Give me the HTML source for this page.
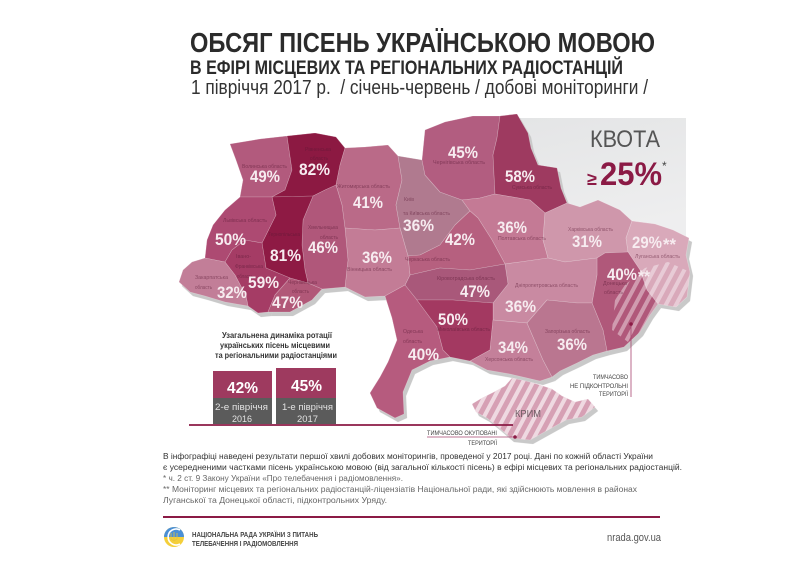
<!DOCTYPE html>
<html><head><meta charset="utf-8"><style>
html,body{margin:0;padding:0;background:#fff;}
svg{display:block;}
text{font-family:"Liberation Sans","DejaVu Sans",sans-serif;}
.pc{font-weight:bold;font-size:16.5px;fill:#f7ecf0;}
.rl{font-size:5.5px;fill:#5a1a35;fill-opacity:0.55;}
</style></head><body>
<svg width="800" height="566" viewBox="0 0 800 566" xmlns="http://www.w3.org/2000/svg">
<defs>
<filter id="sh" x="-5%" y="-5%" width="110%" height="110%">
<feFlood flood-color="#c9c9c9"/><feComposite in2="SourceAlpha" operator="in"/>
</filter>
<pattern id="st" patternUnits="userSpaceOnUse" width="9" height="9" patternTransform="rotate(28)">
<rect x="0" y="0" width="4" height="9" fill="#fff" fill-opacity="0.6"/>
</pattern>
<pattern id="st2" patternUnits="userSpaceOnUse" width="9" height="9" patternTransform="rotate(28)">
<rect x="0" y="0" width="4" height="9" fill="#fff" fill-opacity="0.4"/>
</pattern>
<linearGradient id="gb" x1="0" y1="0" x2="0.3" y2="1">
<stop offset="0" stop-color="#e4e5e6"/><stop offset="1" stop-color="#eeeeef"/>
</linearGradient>
</defs>

<!-- Title -->
<text x="190" y="52" font-size="28" font-weight="bold" fill="#2b2b2b" textLength="465" lengthAdjust="spacingAndGlyphs">ОБСЯГ ПІСЕНЬ УКРАЇНСЬКОЮ МОВОЮ</text>
<text x="190" y="74" font-size="19" font-weight="bold" fill="#2b2b2b" textLength="433" lengthAdjust="spacingAndGlyphs">В ЕФІРІ МІСЦЕВИХ ТА РЕГІОНАЛЬНИХ РАДІОСТАНЦІЙ</text>
<text x="191" y="94" font-size="20" fill="#333" textLength="457" lengthAdjust="spacingAndGlyphs" xml:space="preserve">1 півріччя 2017 р.  / січень-червень / добові моніторинги /</text>

<!-- Quota box -->
<rect x="518" y="118" width="168" height="125" fill="url(#gb)"/>
<text x="590" y="147" font-size="24" fill="#555" textLength="70" lengthAdjust="spacingAndGlyphs">КВОТА</text>
<text x="587" y="185" font-size="18" font-weight="bold" fill="#8b1a45">≥</text>
<text x="600" y="185" font-size="32" font-weight="bold" fill="#8b1a45" textLength="62" lengthAdjust="spacingAndGlyphs">25%</text>
<text x="662" y="170" font-size="12" fill="#444">*</text>

<!-- Map -->
<g id="map" stroke="#ffffff" stroke-opacity="0.3" stroke-width="0.6" stroke-linejoin="round">
<polygon fill="#b25a7d" points="230,144 260,139 287,136 292,170 285,190 272,197 240,197 243,180 236,160"/>
<polygon fill="#8c1942" points="287,136 315,133 336,137 345,148 340,165 336,185 325,190 313,196 272,197 285,190 292,170"/>
<polygon fill="#ba6a88" points="345,148 365,147 388,145 398,156 402,180 396,205 400,228 375,230 345,228 342,205 336,185 340,165"/>
<polygon fill="#b07a8f" points="398,156 422,160 425,175 440,192 462,200 470,211 455,225 440,245 420,255 408,256 400,228 396,205 402,180"/>
<polygon fill="#b25d80" points="422,160 425,130 445,122 473,116 500,116 497,138 493,155 495,194 480,198 462,200 440,192 425,175"/>
<polygon fill="#9e3a60" points="500,116 517,114 528,133 531,148 538,165 557,168 561,188 567,203 545,213 530,200 495,194 493,155 497,138"/>
<polygon fill="#c47a95" points="462,200 480,198 495,194 530,200 545,213 543,240 548,258 520,262 505,264 492,240 478,218 470,211"/>
<polygon fill="#b6607f" points="470,211 478,218 492,240 505,264 470,270 440,268 410,275 408,256 420,255 440,245 455,225"/>
<polygon fill="#cf97ab" points="545,213 567,203 580,207 598,200 620,210 632,221 626,238 628,252 605,253 597,258 565,262 548,258 543,240"/>
<polygon fill="#d9a9ba" points="632,221 655,224 673,230 689,238 686,255 690,272 687,297 676,307 658,304 647,290 640,270 628,252 626,238"/>
<polygon fill="#b0587a" points="597,258 605,253 628,252 640,270 647,290 658,304 650,315 640,332 624,347 607,351 603,330 592,303 597,275"/>
<polygon fill="#c98aa2" points="505,264 520,262 548,258 565,262 597,258 597,275 592,303 577,303 547,300 527,323 493,320 493,303 508,284"/>
<polygon fill="#a9587a" points="410,275 440,268 470,270 505,264 508,284 493,303 453,300 417,300 405,285"/>
<polygon fill="#c37c96" points="345,228 375,230 400,228 408,256 410,275 405,285 385,296 365,297 345,287 348,260"/>
<polygon fill="#b65b7e" points="405,285 417,300 437,327 443,350 450,357 430,361 412,370 403,392 404,414 395,418 377,408 370,393 380,377 388,362 397,340 392,318 385,296"/>
<polygon fill="#a33961" points="417,300 453,300 493,303 493,320 490,350 470,361 450,357 443,350 437,327"/>
<polygon fill="#c4809a" points="493,320 527,323 543,360 552,377 540,381 510,374 487,370 470,361 490,350"/>
<polygon fill="#ba7690" points="547,300 577,303 592,303 603,330 607,351 593,355 577,363 560,371 552,377 543,360 527,323"/>
<polygon fill="#b0577a" points="336,185 342,205 345,228 348,260 345,287 322,289 308,283 305,270 302,245 303,220 313,196 325,190"/>
<polygon fill="#8e1a44" points="272,197 313,196 303,220 302,245 305,270 308,283 290,278 266,268 262,243 276,215"/>
<polygon fill="#ad4a72" points="240,197 272,197 276,215 262,243 245,240 232,250 225,262 205,258 207,240 213,225 225,210"/>
<polygon fill="#a53c65" points="262,243 266,268 290,278 275,295 268,312 258,313 248,306 246,296 235,275 225,262 232,250 245,240"/>
<polygon fill="#b15878" points="290,278 308,283 322,289 312,300 290,312 268,312 275,295"/>
<polygon fill="#c27e98" points="205,258 225,262 235,275 246,296 248,306 225,302 205,296 190,292 179,282 183,270 192,262"/>
<polygon fill="#d6a0b4" points="512,378 526,381 540,385 552,389 562,396 575,402 588,399 595,407 582,417 566,420 548,430 530,440 511,438 497,426 487,418 476,412 472,404 482,398 494,392 505,386"/>
</g>
<use href="#map" transform="translate(3,4)" filter="url(#sh)"/>
<use href="#map"/>
<!-- stripes Crimea -->
<polygon fill="url(#st)" points="512,378 526,381 540,385 552,389 562,396 575,402 588,399 595,407 582,417 566,420 548,430 530,440 511,438 497,426 487,418 476,412 472,404 482,398 494,392 505,386"/>
<!-- stripes occupied -->
<polygon fill="url(#st2)" points="612,330 615,300 625,285 645,268 668,262 690,272 687,297 676,307 658,304 650,315 640,332 628,342"/>

<!-- region small labels -->
<g class="rl">
<text class="rl" x="242" y="168" textLength="45" lengthAdjust="spacingAndGlyphs">Волинська область</text>
<text class="rl" x="305" y="151" textLength="26" lengthAdjust="spacingAndGlyphs">Рівненська</text>
<text class="rl" x="310" y="160" textLength="18" lengthAdjust="spacingAndGlyphs">область</text>
<text class="rl" x="337" y="188" textLength="53" lengthAdjust="spacingAndGlyphs">Житомирська область</text>
<text class="rl" x="404" y="201" textLength="10" lengthAdjust="spacingAndGlyphs">Київ</text>
<text class="rl" x="403" y="215" textLength="47" lengthAdjust="spacingAndGlyphs">та Київська область</text>
<text class="rl" x="433" y="164" textLength="52" lengthAdjust="spacingAndGlyphs">Чернігівська область</text>
<text class="rl" x="223" y="222" textLength="44" lengthAdjust="spacingAndGlyphs">Львівська область</text>
<text class="rl" x="268" y="236" textLength="32" lengthAdjust="spacingAndGlyphs">Тернопільська</text>
<text class="rl" x="308" y="229" textLength="30" lengthAdjust="spacingAndGlyphs">Хмельницька</text>
<text class="rl" x="320" y="239" textLength="18" lengthAdjust="spacingAndGlyphs">область</text>
<text class="rl" x="347" y="271" textLength="45" lengthAdjust="spacingAndGlyphs">Вінницька область</text>
<text class="rl" x="405" y="261" textLength="45" lengthAdjust="spacingAndGlyphs">Черкаська область</text>
<text class="rl" x="437" y="280" textLength="58" lengthAdjust="spacingAndGlyphs">Кіровоградська область</text>
<text class="rl" x="236" y="258" textLength="15" lengthAdjust="spacingAndGlyphs">Івано-</text>
<text class="rl" x="235" y="268" textLength="28" lengthAdjust="spacingAndGlyphs">Франківська</text>
<text class="rl" x="237" y="278" textLength="16" lengthAdjust="spacingAndGlyphs">область</text>
<text class="rl" x="195" y="279" textLength="33" lengthAdjust="spacingAndGlyphs">Закарпатська</text>
<text class="rl" x="195" y="289" textLength="17" lengthAdjust="spacingAndGlyphs">область</text>
<text class="rl" x="288" y="284" textLength="29" lengthAdjust="spacingAndGlyphs">Чернівецька</text>
<text class="rl" x="292" y="293" textLength="17" lengthAdjust="spacingAndGlyphs">область</text>
<text class="rl" x="512" y="189" textLength="40" lengthAdjust="spacingAndGlyphs">Сумська область</text>
<text class="rl" x="498" y="240" textLength="48" lengthAdjust="spacingAndGlyphs">Полтавська область</text>
<text class="rl" x="568" y="231" textLength="45" lengthAdjust="spacingAndGlyphs">Харківська область</text>
<text class="rl" x="635" y="258" textLength="45" lengthAdjust="spacingAndGlyphs">Луганська область</text>
<text class="rl" x="603" y="285" textLength="24" lengthAdjust="spacingAndGlyphs">Донецька</text>
<text class="rl" x="604" y="294" textLength="19" lengthAdjust="spacingAndGlyphs">область</text>
<text class="rl" x="515" y="287" textLength="63" lengthAdjust="spacingAndGlyphs">Дніпропетровська область</text>
<text class="rl" x="545" y="333" textLength="45" lengthAdjust="spacingAndGlyphs">Запорізька область</text>
<text class="rl" x="485" y="361" textLength="48" lengthAdjust="spacingAndGlyphs">Херсонська область</text>
<text class="rl" x="437" y="331" textLength="53" lengthAdjust="spacingAndGlyphs">Миколаївська область</text>
<text class="rl" x="403" y="333" textLength="20" lengthAdjust="spacingAndGlyphs">Одеська</text>
<text class="rl" x="403" y="343" textLength="19" lengthAdjust="spacingAndGlyphs">область</text>
</g>

<!-- percentages -->
<g>
<text class="pc" x="250" y="182" textLength="30" lengthAdjust="spacingAndGlyphs">49%</text>
<text class="pc" x="299" y="175" textLength="31" lengthAdjust="spacingAndGlyphs">82%</text>
<text class="pc" x="353" y="208" textLength="30" lengthAdjust="spacingAndGlyphs">41%</text>
<text class="pc" x="403" y="231" textLength="31" lengthAdjust="spacingAndGlyphs">36%</text>
<text class="pc" x="448" y="158" textLength="30" lengthAdjust="spacingAndGlyphs">45%</text>
<text class="pc" x="215" y="245" textLength="31" lengthAdjust="spacingAndGlyphs">50%</text>
<text class="pc" x="270" y="261" textLength="31" lengthAdjust="spacingAndGlyphs">81%</text>
<text class="pc" x="308" y="253" textLength="30" lengthAdjust="spacingAndGlyphs">46%</text>
<text class="pc" x="362" y="263" textLength="30" lengthAdjust="spacingAndGlyphs">36%</text>
<text class="pc" x="445" y="245" textLength="30" lengthAdjust="spacingAndGlyphs">42%</text>
<text class="pc" x="248" y="288" textLength="31" lengthAdjust="spacingAndGlyphs">59%</text>
<text class="pc" x="217" y="298" textLength="30" lengthAdjust="spacingAndGlyphs">32%</text>
<text class="pc" x="272" y="308" textLength="31" lengthAdjust="spacingAndGlyphs">47%</text>
<text class="pc" x="460" y="297" textLength="30" lengthAdjust="spacingAndGlyphs">47%</text>
<text class="pc" x="438" y="325" textLength="30" lengthAdjust="spacingAndGlyphs">50%</text>
<text class="pc" x="408" y="360" textLength="31" lengthAdjust="spacingAndGlyphs">40%</text>
<text class="pc" x="505" y="312" textLength="31" lengthAdjust="spacingAndGlyphs">36%</text>
<text class="pc" x="498" y="353" textLength="30" lengthAdjust="spacingAndGlyphs">34%</text>
<text class="pc" x="557" y="350" textLength="30" lengthAdjust="spacingAndGlyphs">36%</text>
<text class="pc" x="607" y="280" textLength="30" lengthAdjust="spacingAndGlyphs">40%</text>
<text class="pc" x="638" y="282" font-size="13" textLength="12" lengthAdjust="spacingAndGlyphs">**</text>
<text class="pc" x="632" y="248" textLength="30" lengthAdjust="spacingAndGlyphs">29%</text>
<text class="pc" x="663" y="250" font-size="13" textLength="13" lengthAdjust="spacingAndGlyphs">**</text>
<text class="pc" x="572" y="247" textLength="30" lengthAdjust="spacingAndGlyphs">31%</text>
<text class="pc" x="497" y="233" textLength="30" lengthAdjust="spacingAndGlyphs">36%</text>
<text class="pc" x="505" y="182" textLength="30" lengthAdjust="spacingAndGlyphs">58%</text>
</g>

<text x="515" y="417" font-size="10" fill="#6d5a62" textLength="26" lengthAdjust="spacingAndGlyphs">КРИМ</text>

<!-- Not controlled label -->
<line x1="631" y1="324" x2="631" y2="397" stroke="#a8456f" stroke-width="0.8"/>
<circle cx="631" cy="324" r="1.8" fill="#8b1a45"/>
<g font-size="6.5" fill="#444" text-anchor="end">
<text x="628" y="379" textLength="35" lengthAdjust="spacingAndGlyphs">ТИМЧАСОВО</text>
<text x="628" y="388" textLength="58" lengthAdjust="spacingAndGlyphs">НЕ ПІДКОНТРОЛЬНІ</text>
<text x="628" y="396" textLength="29" lengthAdjust="spacingAndGlyphs">ТЕРИТОРІЇ</text>
</g>

<!-- Occupied label -->
<line x1="189" y1="425" x2="513" y2="425" stroke="#8b1a45" stroke-width="1.8"/>
<line x1="427" y1="437" x2="515" y2="437" stroke="#a8456f" stroke-width="0.8"/>
<circle cx="515" cy="437" r="1.8" fill="#8b1a45"/>
<text x="427" y="435" font-size="6.5" fill="#444" textLength="70" lengthAdjust="spacingAndGlyphs">ТИМЧАСОВО ОКУПОВАНІ</text>
<text x="468" y="445" font-size="6.5" fill="#444" textLength="29" lengthAdjust="spacingAndGlyphs">ТЕРИТОРІЇ</text>

<!-- Dynamics block -->
<g font-size="8" font-weight="bold" fill="#333">
<text x="222" y="338" textLength="110" lengthAdjust="spacingAndGlyphs">Узагальнена динаміка ротації</text>
<text x="220" y="348" textLength="110" lengthAdjust="spacingAndGlyphs">українських пісень місцевими</text>
<text x="215" y="358" textLength="122" lengthAdjust="spacingAndGlyphs">та регіональними радіостанціями</text>
</g>
<rect x="213" y="371" width="59" height="27" fill="#9e3a5f"/>
<rect x="213" y="398" width="59" height="26" fill="#5b5b5b"/>
<rect x="276" y="368" width="60" height="30" fill="#9e3a5f"/>
<rect x="276" y="398" width="60" height="26" fill="#5b5b5b"/>
<text x="227" y="393" font-size="16" font-weight="bold" fill="#fff" textLength="31" lengthAdjust="spacingAndGlyphs">42%</text>
<text x="291" y="391" font-size="16" font-weight="bold" fill="#fff" textLength="31" lengthAdjust="spacingAndGlyphs">45%</text>
<g font-size="9.5" fill="#e2e2e2">
<text x="215" y="410" textLength="53" lengthAdjust="spacingAndGlyphs">2-е півріччя</text>
<text x="232" y="422" textLength="20" lengthAdjust="spacingAndGlyphs">2016</text>
<text x="282" y="410" textLength="51" lengthAdjust="spacingAndGlyphs">1-е півріччя</text>
<text x="297" y="422" textLength="21" lengthAdjust="spacingAndGlyphs">2017</text>
</g>

<!-- Footnotes -->
<g font-size="8.6">
<text x="163" y="459" fill="#333" textLength="490" lengthAdjust="spacingAndGlyphs">В інфографіці наведені результати першої хвилі добових моніторингів, проведеної у 2017 році. Дані по кожній області України</text>
<text x="163" y="470" fill="#333" textLength="519" lengthAdjust="spacingAndGlyphs">є усередненими частками пісень українською мовою (від загальної кількості пісень) в ефірі місцевих та регіональних радіостанцій.</text>
<text x="163" y="481" fill="#666" textLength="240" lengthAdjust="spacingAndGlyphs">* ч. 2 ст. 9 Закону України «Про телебачення і радіомовлення».</text>
<text x="163" y="492" fill="#666" textLength="474" lengthAdjust="spacingAndGlyphs">** Моніторинг місцевих та регіональних радіостанцій-ліцензіатів Національної ради, які здійснюють мовлення в районах</text>
<text x="163" y="503" fill="#666" textLength="224" lengthAdjust="spacingAndGlyphs">Луганської та Донецької області, підконтрольних Уряду.</text>
</g>

<!-- Footer -->
<line x1="163" y1="517" x2="660" y2="517" stroke="#8b1a45" stroke-width="2"/>
<circle cx="174" cy="537" r="10" fill="#f4cf3a"/>
<path d="M164,537 A10,10 0 0 1 184,537 Z" fill="#4a8fd6"/>
<path d="M180,530 A8,8 0 1 0 180,544" fill="none" stroke="#fff" stroke-width="1.6"/>
<path d="M174,532 l0,9 M171,533 l0,6 l3,2 l3,-2 l0,-6" fill="none" stroke="#e8c43a" stroke-width="0.8"/>
<g font-size="7.5" font-weight="bold" fill="#444">
<text x="192" y="537" textLength="126" lengthAdjust="spacingAndGlyphs">НАЦІОНАЛЬНА РАДА УКРАЇНИ З ПИТАНЬ</text>
<text x="192" y="546" textLength="106" lengthAdjust="spacingAndGlyphs">ТЕЛЕБАЧЕННЯ І РАДІОМОВЛЕННЯ</text>
</g>
<text x="607" y="541" font-size="11" fill="#555" textLength="54" lengthAdjust="spacingAndGlyphs">nrada.gov.ua</text>
</svg>
</body></html>
